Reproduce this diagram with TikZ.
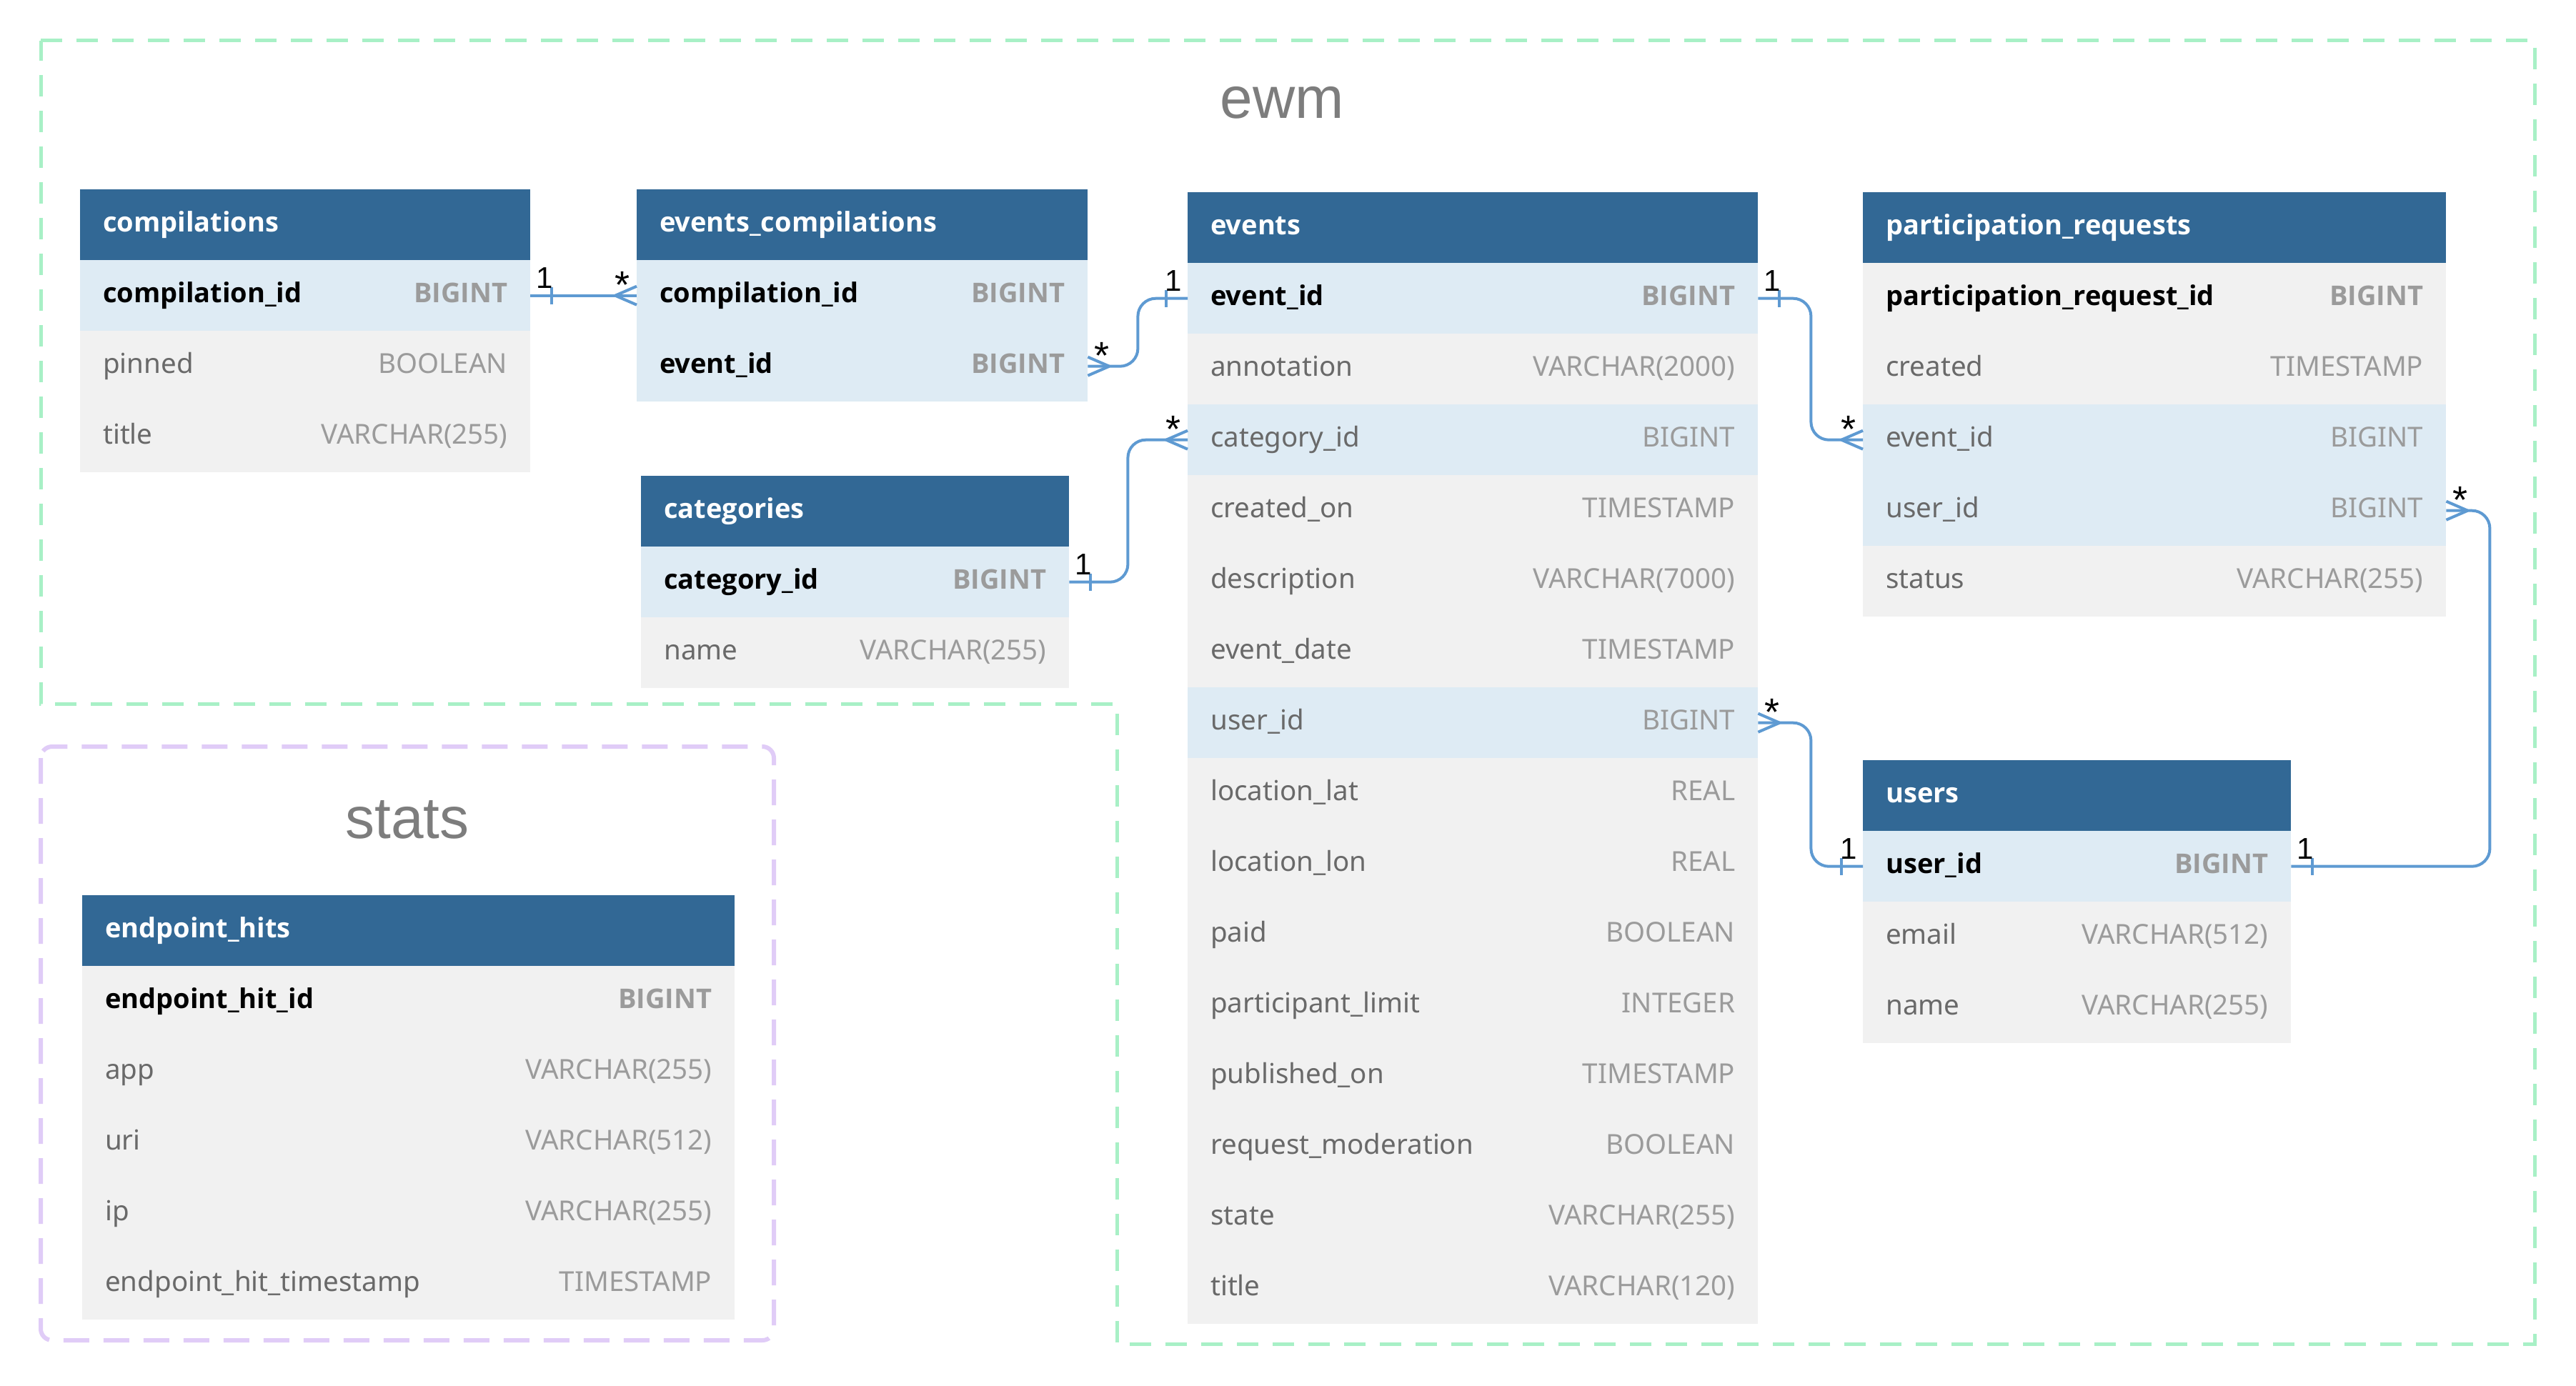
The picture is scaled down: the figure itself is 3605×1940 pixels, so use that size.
\documentclass[tikz,border=0pt]{standalone}
\usepackage{fontspec}
\setmainfont{Noto Sans}
\newfontfamily\boldsans{Open Sans}
\newfontfamily\titlefont{Liberation Sans}
\usetikzlibrary{calc}
\definecolor{hdrblue}{RGB}{50,104,149}
\definecolor{hlrow}{RGB}{222,235,244}
\definecolor{plrow}{RGB}{241,241,241}
\definecolor{typegray}{RGB}{155,155,155}
\definecolor{namegray}{RGB}{105,105,105}
\definecolor{relblue}{RGB}{94,154,210}
\definecolor{ewmgreen}{RGB}{168,240,198}
\definecolor{statspurple}{RGB}{224,204,247}
\definecolor{titlegray}{RGB}{125,125,125}
\newcommand\rowfont{\fontsize{38.5}{46}\selectfont}
\newcommand\rowbold{\boldsans\bfseries\fontsize{38}{46}\selectfont}
\newcommand\cardfont{\titlefont\fontsize{42}{48}\selectfont}
\newcommand\starfont{\titlefont\fontsize{54}{60}\selectfont}
\tikzset{
  rowbox/.style={draw=none, inner sep=0pt, minimum height=99pt},
  hdrbox/.style={rowbox, fill=hdrblue},
  hl/.style={fill=hlrow},
  pl/.style={fill=plrow},
  hdrtxt/.style={inner sep=0pt, font=\rowbold, text=white, anchor=base west},
  pkname/.style={inner sep=0pt, font=\rowbold, text=black, anchor=base west},
  pktype/.style={inner sep=0pt, font=\rowbold, text=typegray, anchor=base east},
  fkname/.style={inner sep=0pt, font=\rowfont, text=namegray, anchor=base west},
  fktype/.style={inner sep=0pt, font=\rowfont, text=typegray, anchor=base east},
  rel/.style={draw=relblue, line width=4pt, rounded corners=25pt},
  relplain/.style={draw=relblue, line width=4pt},
  cardtxt/.style={inner sep=0pt, font=\cardfont, text=black, anchor=base},
  startxt/.style={inner sep=0pt, font=\starfont, text=black, anchor=base},
  ewmframe/.style={draw=ewmgreen, line width=5pt, dash pattern=on 30pt off 20pt},
  statsframe/.style={draw=statspurple, line width=6pt, dash pattern=on 36pt off 20pt, rounded corners=16pt},
  grouptitle/.style={inner sep=0pt, font=\titlefont\fontsize{82}{90}\selectfont, text=titlegray, anchor=base}
}
% table header: id, x, y, width, title
\newcommand\tblhdr[5]{%
  \node[hdrbox, minimum width=#4pt, anchor=north west] (#1) at (#2,#3) {};
  \node[hdrtxt] (#1-h) at ([xshift=32pt,yshift=-10pt]#1.west) {#5};}
% field row: id, x, y, width, fill, weight, name, type
\newcommand\fld[8]{%
  \node[rowbox, #5, minimum width=#4pt, anchor=north west] (#1) at (#2,#3) {};
  \node[#6name] (#1-n) at ([xshift=32pt,yshift=-10pt]#1.west) {#7};
  \node[#6type] (#1-t) at ([xshift=-32pt,yshift=-10pt]#1.east) {#8};}
% crow's foot: anchor, direction
\newcommand\crow[2]{%
  \draw[relplain] ([xshift=#2*30pt]#1) -- ([yshift=13pt]#1)
                  ([xshift=#2*30pt]#1) -- ([yshift=-13pt]#1);}
% one bar: anchor, direction
\newcommand\onebar[2]{%
  \draw[relplain] ([xshift=#2*30pt,yshift=12pt]#1) -- ([xshift=#2*30pt,yshift=-12pt]#1);}
% cardinality labels: name, anchor, direction
\newcommand\cardone[3]{%
  \node[cardtxt] (#1) at ([xshift=#3*20pt,yshift=10pt]#2) {1};}
\newcommand\cardmany[3]{%
  \node[startxt] (#1) at ([xshift=#3*20pt,yshift=-4pt]#2) {*};}

\begin{document}
\begin{tikzpicture}[x=1pt,y=-1pt]
\path[use as bounding box, fill=white] (0,0) rectangle (3605,1940);

% group frames
\draw[ewmframe] (57,57) -- (3547,57) -- (3547,1881) -- (1563,1881) -- (1563,985) -- (57,985) -- cycle;
\draw[statsframe] (57,1045) rectangle (1083,1876);
\node[grouptitle] (ewmtitle) at (1794,165) {ewm};
\node[grouptitle] (statstitle) at (570,1173) {stats};

% compilations
\tblhdr{cmp}{112}{265}{630}{compilations}
\fld{cmp-id}{112}{364}{630}{hl}{pk}{compilation\_id}{BIGINT}
\fld{cmp-pinned}{112}{463}{630}{pl}{fk}{pinned}{BOOLEAN}
\fld{cmp-title}{112}{562}{630}{pl}{fk}{title}{VARCHAR(255)}

% events_compilations
\tblhdr{ec}{891}{265}{631}{events\_compilations}
\fld{ec-cid}{891}{364}{631}{hl}{pk}{compilation\_id}{BIGINT}
\fld{ec-eid}{891}{463}{631}{hl}{pk}{event\_id}{BIGINT}

% categories
\tblhdr{cat}{897}{666}{599}{categories}
\fld{cat-id}{897}{765}{599}{hl}{pk}{category\_id}{BIGINT}
\fld{cat-name}{897}{864}{599}{pl}{fk}{name}{VARCHAR(255)}

% events
\tblhdr{ev}{1662}{269}{798}{events}
\fld{ev-eid}{1662}{368}{798}{hl}{pk}{event\_id}{BIGINT}
\fld{ev-ann}{1662}{467}{798}{pl}{fk}{annotation}{VARCHAR(2000)}
\fld{ev-cat}{1662}{566}{798}{hl}{fk}{category\_id}{BIGINT}
\fld{ev-cre}{1662}{665}{798}{pl}{fk}{created\_on}{TIMESTAMP}
\fld{ev-desc}{1662}{764}{798}{pl}{fk}{description}{VARCHAR(7000)}
\fld{ev-date}{1662}{863}{798}{pl}{fk}{event\_date}{TIMESTAMP}
\fld{ev-uid}{1662}{962}{798}{hl}{fk}{user\_id}{BIGINT}
\fld{ev-lat}{1662}{1061}{798}{pl}{fk}{location\_lat}{REAL}
\fld{ev-lon}{1662}{1160}{798}{pl}{fk}{location\_lon}{REAL}
\fld{ev-paid}{1662}{1259}{798}{pl}{fk}{paid}{BOOLEAN}
\fld{ev-lim}{1662}{1358}{798}{pl}{fk}{participant\_limit}{INTEGER}
\fld{ev-pub}{1662}{1457}{798}{pl}{fk}{published\_on}{TIMESTAMP}
\fld{ev-mod}{1662}{1556}{798}{pl}{fk}{request\_moderation}{BOOLEAN}
\fld{ev-state}{1662}{1655}{798}{pl}{fk}{state}{VARCHAR(255)}
\fld{ev-title}{1662}{1754}{798}{pl}{fk}{title}{VARCHAR(120)}

% participation_requests
\tblhdr{pr}{2607}{269}{816}{participation\_requests}
\fld{pr-id}{2607}{368}{816}{pl}{pk}{participation\_request\_id}{BIGINT}
\fld{pr-cre}{2607}{467}{816}{pl}{fk}{created}{TIMESTAMP}
\fld{pr-eid}{2607}{566}{816}{hl}{fk}{event\_id}{BIGINT}
\fld{pr-uid}{2607}{665}{816}{hl}{fk}{user\_id}{BIGINT}
\fld{pr-st}{2607}{764}{816}{pl}{fk}{status}{VARCHAR(255)}

% users
\tblhdr{us}{2607}{1064}{599}{users}
\fld{us-uid}{2607}{1163}{599}{hl}{pk}{user\_id}{BIGINT}
\fld{us-mail}{2607}{1262}{599}{pl}{fk}{email}{VARCHAR(512)}
\fld{us-name}{2607}{1361}{599}{pl}{fk}{name}{VARCHAR(255)}

% endpoint_hits
\tblhdr{eh}{115}{1253}{913}{endpoint\_hits}
\fld{eh-id}{115}{1352}{913}{pl}{pk}{endpoint\_hit\_id}{BIGINT}
\fld{eh-app}{115}{1451}{913}{pl}{fk}{app}{VARCHAR(255)}
\fld{eh-uri}{115}{1550}{913}{pl}{fk}{uri}{VARCHAR(512)}
\fld{eh-ip}{115}{1649}{913}{pl}{fk}{ip}{VARCHAR(255)}
\fld{eh-ts}{115}{1748}{913}{pl}{fk}{endpoint\_hit\_timestamp}{TIMESTAMP}

% relationships
\draw[rel] (cmp-id.east) -- (ec-cid.west);
\onebar{cmp-id.east}{1}
\crow{ec-cid.west}{-1}
\cardone{c1a}{cmp-id.east}{1}
\cardmany{c1b}{ec-cid.west}{-1}

\draw[rel] (ec-eid.east) -- ++(70,0) |- (ev-eid.west);
\crow{ec-eid.east}{1}
\onebar{ev-eid.west}{-1}
\cardmany{c2a}{ec-eid.east}{1}
\cardone{c2b}{ev-eid.west}{-1}

\draw[rel] (cat-id.east) -- ++(82,0) |- (ev-cat.west);
\onebar{cat-id.east}{1}
\crow{ev-cat.west}{-1}
\cardone{c3a}{cat-id.east}{1}
\cardmany{c3b}{ev-cat.west}{-1}

\draw[rel] (ev-eid.east) -- ++(74,0) |- (pr-eid.west);
\onebar{ev-eid.east}{1}
\crow{pr-eid.west}{-1}
\cardone{c4a}{ev-eid.east}{1}
\cardmany{c4b}{pr-eid.west}{-1}

\draw[rel] (ev-uid.east) -- ++(74,0) |- (us-uid.west);
\crow{ev-uid.east}{1}
\onebar{us-uid.west}{-1}
\cardmany{c5a}{ev-uid.east}{1}
\cardone{c5b}{us-uid.west}{-1}

\draw[rel] (us-uid.east) -- ++(278,0) |- (pr-uid.east);
\onebar{us-uid.east}{1}
\crow{pr-uid.east}{1}
\cardone{c6a}{us-uid.east}{1}
\cardmany{c6b}{pr-uid.east}{1}
\end{tikzpicture}
\end{document}
